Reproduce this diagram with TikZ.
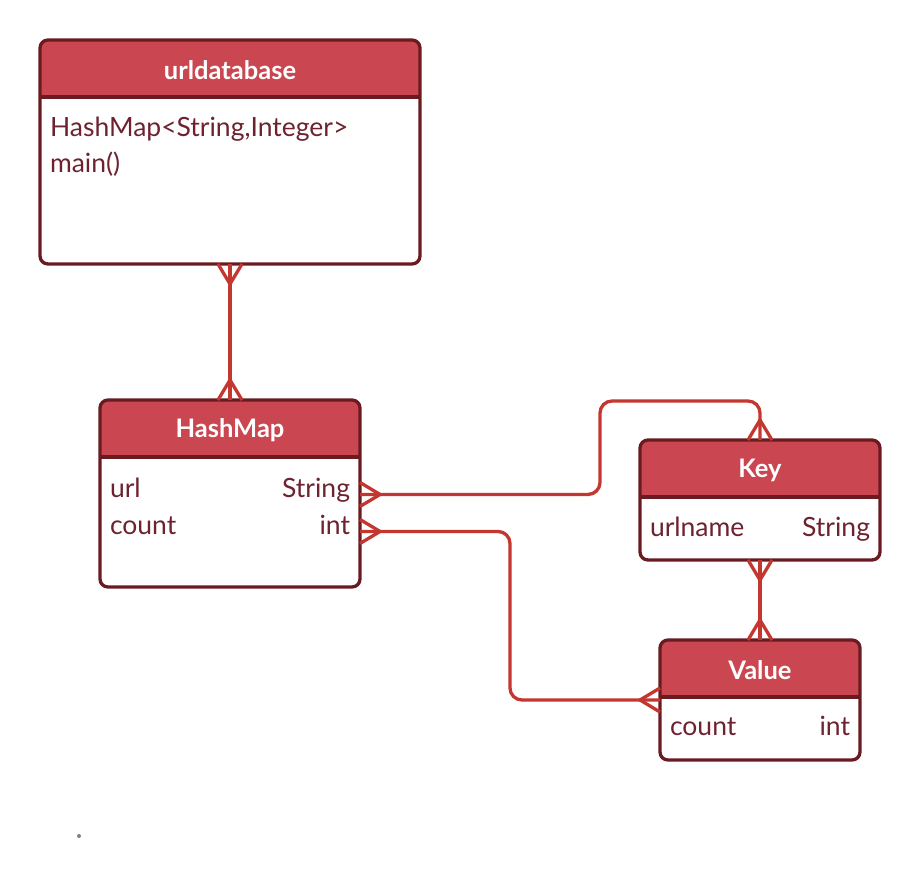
\documentclass[tikz,border=0pt]{standalone}
\usepackage{fontspec}
\setmainfont{Lato}
\usetikzlibrary{arrows.meta, positioning}

\definecolor{boxline}{HTML}{6A1B22}
\definecolor{headfill}{HTML}{CA4650}
\definecolor{linkred}{HTML}{C43630}
\definecolor{fieldtext}{HTML}{6E2230}

% crow's foot: three strokes that meet a little away from the box
\pgfdeclarearrow{
  name = Crow,
  parameters = {\the\pgfarrowlength,\the\pgfarrowwidth},
  setup code = {
    \pgfarrowssettipend{0pt}
    \pgfarrowssetlineend{0pt}
    \pgfarrowssetbackend{-\pgfarrowlength}
    \pgfarrowssetvisualbackend{-\pgfarrowlength}
    \pgfarrowshullpoint{0pt}{.5\pgfarrowwidth}
    \pgfarrowshullpoint{0pt}{-.5\pgfarrowwidth}
    \pgfarrowshullpoint{-\pgfarrowlength}{0pt}
  },
  drawing code = {
    \pgfpathmoveto{\pgfqpoint{0pt}{.5\pgfarrowwidth}}
    \pgfpathlineto{\pgfqpoint{-\pgfarrowlength}{0pt}}
    \pgfpathlineto{\pgfqpoint{0pt}{-.5\pgfarrowwidth}}
    \pgfusepathqstroke
  },
  defaults = {length=20pt, width=24pt}
}

\begin{document}
\begin{tikzpicture}[x=1pt, y=-1pt, >={Crow}]
    \tikzstyle{entity} = [draw=boxline, line width=3.3pt, rounded corners=8pt,
        inner sep=0pt, outer sep=0pt,
        path picture={
            \fill[headfill, sharp corners] (path picture bounding box.north west)
                rectangle ([yshift=-57pt]path picture bounding box.north east);
            \draw[boxline, line width=3.3pt] ([yshift=-57pt]path picture bounding box.north west)
                -- ([yshift=-57pt]path picture bounding box.north east);}]
    \tikzstyle{title} = [text=white, font=\bfseries\fontsize{25.5}{30}\selectfont,
        minimum height=57pt, inner sep=0pt, outer sep=0pt, yshift=-2pt]
    \tikzstyle{field} = [text=fieldtext, font=\fontsize{26.5}{32}\selectfont,
        inner xsep=10pt, inner ysep=0pt, outer sep=0pt]
    \tikzstyle{link} = [draw=linkred, line width=3.3pt, rounded corners=12pt, <->]
    \useasboundingbox (0,0) rectangle (920,878);

    % urldatabase
    \node [entity, minimum width=380pt, minimum height=224pt] at (230,152) (udb) {};
    \node [title, below=0pt of udb.north] (udbtitle) {urldatabase};
    \node [field, anchor=base west] at ([yshift=-96pt]udb.north west) (udbmap) {HashMap<String,Integer>};
    \node [field, anchor=base west] at ([yshift=-132pt]udb.north west) (udbmain) {main()};

    % HashMap
    \node [entity, minimum width=260pt, minimum height=187pt] at (230,493.5) (hm) {};
    \node [title, below=0pt of hm.north] (hmtitle) {HashMap};
    \node [field, anchor=base west] at ([yshift=-97pt]hm.north west) (hmurl) {url};
    \node [field, anchor=base east] at (hm.east |- hmurl.base) (hmurltype) {String};
    \node [field, anchor=base west] at ([yshift=-134pt]hm.north west) (hmcount) {count};
    \node [field, anchor=base east] at (hm.east |- hmcount.base) (hmcounttype) {int};

    % Key
    \node [entity, minimum width=240pt, minimum height=120pt] at (760,500) (key) {};
    \node [title, below=0pt of key.north] (keytitle) {Key};
    \node [field, anchor=base west] at ([yshift=-96pt]key.north west) (keyname) {urlname};
    \node [field, anchor=base east] at (key.east |- keyname.base) (keynametype) {String};

    % Value
    \node [entity, minimum width=200pt, minimum height=120pt] at (760,700) (val) {};
    \node [title, below=0pt of val.north] (valtitle) {Value};
    \node [field, anchor=base west] at ([yshift=-95pt]val.north west) (valcount) {count};
    \node [field, anchor=base east] at (val.east |- valcount.base) (valcounttype) {int};

    \node [circle, fill=gray, inner sep=0pt, minimum size=4pt] at (79,836) (dot) {};

    \draw [link] (udb.south) to (hm.north);
    \draw [link] (hm.east |- hmurl.mid) -- ++(240,0) |- ([yshift=39pt]key.north) -- (key.north);
    \draw [link] (hm.east |- hmcount.mid) -- ++(150,0) |- (val.west);
    \draw [link] (key.south) to (val.north);
\end{tikzpicture}
\end{document}
